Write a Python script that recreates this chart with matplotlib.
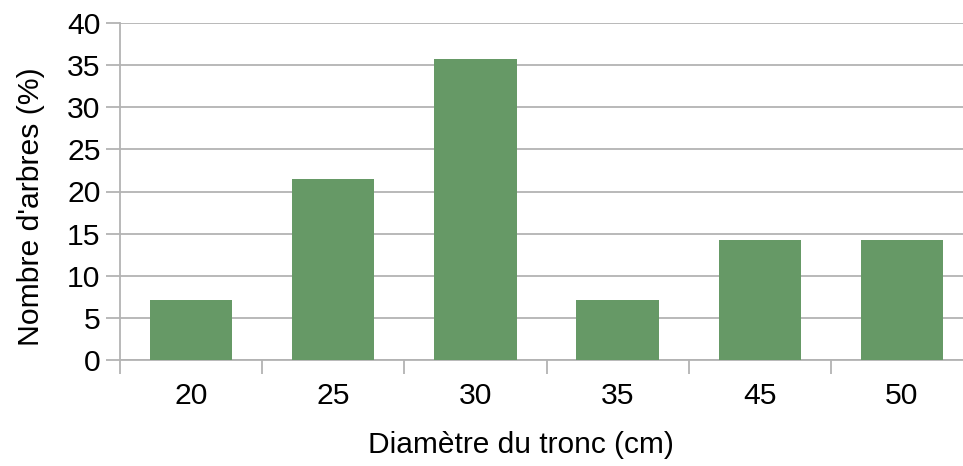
import numpy as np
import matplotlib.pyplot as plt

plt.rcParams['font.family'] = ['Liberation Sans', 'DejaVu Sans']

diametres = ['20', '25', '30', '35', '45', '50']
pourcent = [7.14, 21.43, 35.71, 7.14, 14.29, 14.29]

gris = '#b3b3b3'
vert = '#669966'
taille = 21.7

fig = plt.figure(figsize=(9.63, 4.66), dpi=100)
# zone de tracé (elle déborde un peu à droite)
ax = fig.add_axes([120/963, 1 - 360/466, 853/963, 337/466])

x = np.arange(len(diametres))
ax.bar(x, pourcent, width=0.58, color=vert, zorder=3)

ax.set_xlim(-0.5, len(diametres) - 0.5)
ax.set_ylim(0, 40)
ax.set_yticks(np.arange(0, 41, 5))
ax.yaxis.grid(True, color=gris, linewidth=1.3)
ax.set_axisbelow(True)

ax.set_xticks(x)
ax.set_xticklabels(diametres)
ax.set_xticks(np.arange(-0.5, len(diametres)), minor=True)
ax.tick_params(axis='x', which='major', length=0, pad=16, labelsize=taille)
ax.tick_params(axis='x', which='minor', length=10, width=1.3, color=gris)
ax.tick_params(axis='y', length=10, width=1.3, color=gris, pad=4, labelsize=taille)

for s in ['top', 'right']:
    ax.spines[s].set_visible(False)
for s in ['left', 'bottom']:
    ax.spines[s].set_color(gris)
    ax.spines[s].set_linewidth(1.3)

ax.set_xlabel('Diamètre du tronc (cm)', fontsize=21.5)
ax.set_ylabel("Nombre d'arbres (%)", fontsize=taille, labelpad=16)
ax.xaxis.set_label_coords(0.470, -0.21)
ax.yaxis.label.set_y(0.454)

fig.savefig('out.png', dpi=100)
